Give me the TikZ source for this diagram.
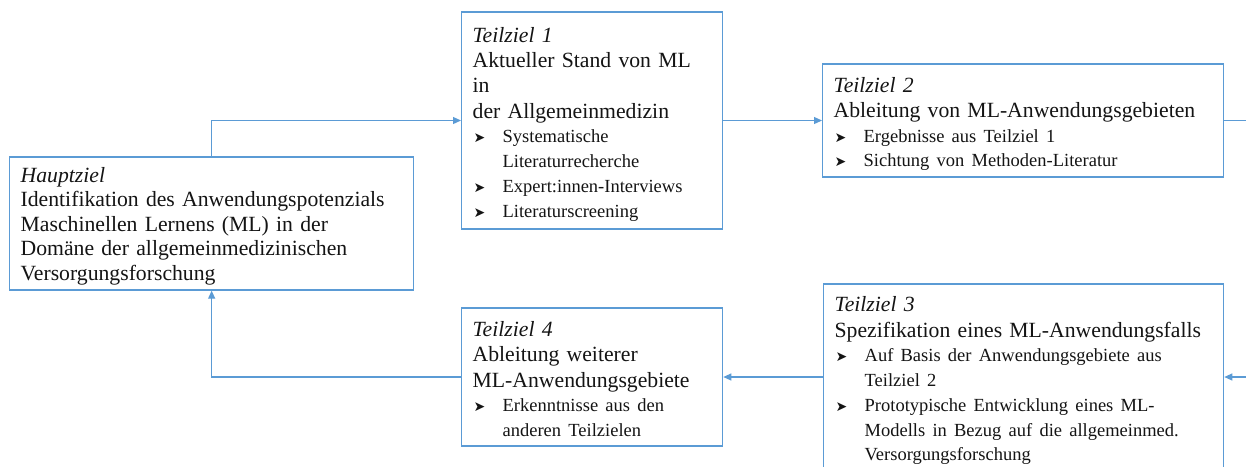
\documentclass[tikz,border=0pt]{standalone}
\usepackage{fontspec}
\setmainfont{Liberation Serif}
\newfontfamily\symfont{DejaVu Sans}
\usepackage{tikz}
\usetikzlibrary{arrows.meta, positioning}
\definecolor{zielblau}{RGB}{91,155,213}
\definecolor{zieltext}{RGB}{20,20,20}

\newcommand{\pfeilsym}{{\symfont\fontsize{14}{14}\selectfont ➤}}
\newcommand{\zielkopf}[2][26pt]{\rule{0pt}{#1}\textit{#2}}
\newcommand{\zielpunkt}[1]{\par{\fontsize{18.5}{24.5}\selectfont\noindent\makebox[30pt][l]{\hspace{1pt}\pfeilsym}\begin{tabular}[t]{@{}l@{}}#1\end{tabular}\par}}

\tikzset{
  zielbox/.style={draw=zielblau, line width=1.3pt, fill=white, anchor=west,
    inner xsep=11pt, inner ysep=2pt, align=left, text=zieltext,
    font=\fontsize{21.7}{25.3}\selectfont},
  zielpfeil/.style={draw=zielblau, line width=1.2pt, -{Triangle[length=8pt,width=7pt]}},
  zielweg/.style={draw=zielblau, line width=1.2pt}
}

\begin{document}
\begin{tikzpicture}[x=1pt,y=-1pt]
    \useasboundingbox (0,0) rectangle (1246,466);
    \clip (0,0) rectangle (1246,466);

    \node[zielbox, text width=382pt, minimum height=133pt,
          font=\fontsize{21.7}{24.5}\selectfont](haupt) at (9,223.5){
      \zielkopf[20pt]{Hauptziel}\\
      Identifikation des Anwendungspotenzials\\
      Maschinellen Lernens (ML) in der\\
      Domäne der allgemeinmedizinischen\\
      Versorgungsforschung};

    \node[zielbox, text width=239pt, minimum height=217pt](teil1) at (461,120.5){
      \zielkopf{Teilziel 1}\\
      Aktueller Stand von ML\\
      in\\
      der Allgemeinmedizin
      \zielpunkt{Systematische\\Literaturrecherche}
      \zielpunkt{Expert:innen-Interviews}
      \zielpunkt{Literaturscreening}};

    \node[zielbox, text width=379pt, minimum height=113pt](teil2) at (822,120.5){
      \zielkopf{Teilziel 2}\\
      Ableitung von ML-Anwendungsgebieten
      \zielpunkt{Ergebnisse aus Teilziel 1}
      \zielpunkt{Sichtung von Methoden-Literatur}};

    \node[zielbox, text width=378pt, minimum height=184pt](teil3) at (823,377){
      \zielkopf{Teilziel 3}\\
      Spezifikation eines ML-Anwendungsfalls
      \zielpunkt{Auf Basis der Anwendungsgebiete aus\\Teilziel 2}
      \zielpunkt{Prototypische Entwicklung eines ML-\\Modells in Bezug auf die allgemeinmed.\\Versorgungsforschung}};

    \node[zielbox, text width=239pt, minimum height=138pt](teil4) at (461,377){
      \zielkopf{Teilziel 4}\\
      Ableitung weiterer\\
      ML-Anwendungsgebiete
      \zielpunkt{Erkenntnisse aus den\\anderen Teilzielen}};

    \coordinate (rausR) at (1250,120.5);
    \coordinate (reinR) at (1250,377);

    \draw[zielpfeil] (haupt.north) |- (teil1.west);
    \draw[zielpfeil] (teil1.east) -- (teil2.west);
    \draw[zielweg] (teil2.east) -- (rausR);
    \draw[zielpfeil] (reinR) -- (teil3.east);
    \draw[zielpfeil] (teil3.west) -- (teil4.east);
    \draw[zielpfeil] (teil4.west) -| (haupt.south);
  \end{tikzpicture}
\end{document}
